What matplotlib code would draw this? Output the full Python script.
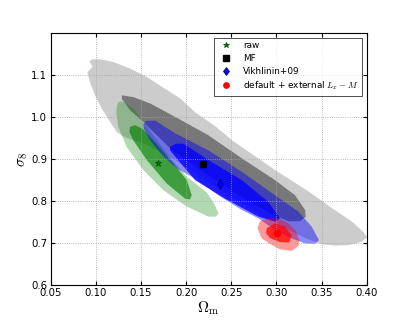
import numpy as np
import matplotlib
matplotlib.use("Agg")
import matplotlib.pyplot as plt

plt.rcParams["mathtext.fontset"] = "cm"
plt.rcParams["font.family"] = "DejaVu Sans"

# ------------------------------------------------------------
# contour outlines (Omega_m, sigma_8)
# ------------------------------------------------------------

# MF, 2 sigma
mf2_om = [0.0958, 0.1046, 0.1191, 0.1379, 0.1564, 0.1744, 0.1933, 0.2099, 0.2320, 0.2509,
          0.2797, 0.2985, 0.3350, 0.3616, 0.3838, 0.3960, 0.4004, 0.3945, 0.3797, 0.3649,
          0.3502, 0.3317, 0.3096, 0.2819, 0.2486, 0.2154, 0.1822, 0.1545, 0.1323, 0.1231,
          0.1157, 0.1065, 0.0991, 0.0928, 0.0906, 0.0966, 0.0928]
mf2_s8 = [1.138, 1.138, 1.132, 1.116, 1.096, 1.071, 1.045, 1.012, 0.979, 0.945,
          0.902, 0.874, 0.824, 0.783, 0.751, 0.727, 0.714, 0.703, 0.695, 0.694,
          0.697, 0.712, 0.736, 0.769, 0.812, 0.860, 0.905, 0.936, 0.952, 0.965,
          0.989, 1.021, 1.052, 1.088, 1.108, 1.120, 1.133]

# MF, 1 sigma
mf1_om = [0.1287, 0.1415, 0.1600, 0.1877, 0.2246, 0.2616, 0.2985, 0.3206, 0.3317, 0.3325,
          0.3262, 0.3132, 0.2929, 0.2597, 0.2154, 0.1822, 0.1526, 0.1379, 0.1290]
mf1_s8 = [1.052, 1.048, 1.033, 1.001, 0.957, 0.902, 0.850, 0.814, 0.779, 0.763,
          0.752, 0.752, 0.771, 0.812, 0.874, 0.926, 0.989, 1.017, 1.043]

# raw, 2 sigma
raw2_om = [0.1249, 0.1290, 0.1334, 0.1415, 0.1564, 0.1785, 0.2007, 0.2228, 0.2309, 0.2357,
           0.2331, 0.2246, 0.2118, 0.2007, 0.1748, 0.1526, 0.1342, 0.1249, 0.1227, 0.1231]
raw2_s8 = [1.036, 1.038, 1.032, 1.021, 0.977, 0.914, 0.858, 0.821, 0.795, 0.771,
           0.763, 0.763, 0.776, 0.787, 0.826, 0.874, 0.929, 0.977, 1.010, 1.026]

# raw, 1 sigma
raw1_om = [0.1379, 0.1434, 0.1512, 0.1637, 0.1858, 0.2007, 0.2062, 0.2043, 0.1988, 0.1785,
           0.1564, 0.1415, 0.1373]
raw1_s8 = [0.977, 0.981, 0.973, 0.945, 0.890, 0.850, 0.814, 0.804, 0.806, 0.842,
           0.898, 0.945, 0.965]

# Vikhlinin+09, 2 sigma
v2_om = [0.1526, 0.1556, 0.1656, 0.1877, 0.2246, 0.2616, 0.2985, 0.3243, 0.3391, 0.3472,
         0.3428, 0.3317, 0.3170, 0.2985, 0.2800, 0.2616, 0.2357, 0.2099, 0.1910, 0.1748,
         0.1600, 0.1534]
v2_s8 = [0.983, 0.991, 0.992, 0.962, 0.921, 0.870, 0.814, 0.775, 0.739, 0.707,
         0.698, 0.699, 0.711, 0.731, 0.759, 0.779, 0.814, 0.854, 0.876, 0.906,
         0.945, 0.971]

# Vikhlinin+09, 1 sigma
v1_om = [0.1822, 0.1888, 0.1969, 0.2246, 0.2616, 0.2911, 0.3040, 0.2985, 0.2800, 0.2431,
         0.2099, 0.1896, 0.1822]
v1_s8 = [0.929, 0.937, 0.937, 0.898, 0.850, 0.798, 0.759, 0.751, 0.763, 0.806,
         0.850, 0.902, 0.921]

# default + external Lx-M, 2 sigma
ext2_om = [0.2911, 0.3021, 0.3132, 0.3217, 0.3254, 0.3245, 0.3170, 0.3040, 0.2929, 0.2838,
           0.2789, 0.2819]
ext2_s8 = [0.759, 0.759, 0.747, 0.729, 0.707, 0.693, 0.681, 0.685, 0.698, 0.711,
           0.736, 0.752]

# default + external Lx-M, 1 sigma
ext1_om = [0.2893, 0.2985, 0.3096, 0.3170, 0.3140, 0.3040, 0.2929, 0.2885]
ext1_s8 = [0.735, 0.747, 0.739, 0.719, 0.701, 0.702, 0.712, 0.724]

# best fit points
labels = ["raw", "MF", "Vikhlinin+09", r"default + external $L_x - M$"]
best_om = [0.169, 0.219, 0.238, 0.301]
best_s8 = [0.890, 0.888, 0.840, 0.723]

x_ticks = [0.05, 0.10, 0.15, 0.20, 0.25, 0.30, 0.35, 0.40]
y_ticks = [0.6, 0.7, 0.8, 0.9, 1.0, 1.1]


# ------------------------------------------------------------
# plot
# ------------------------------------------------------------

fig = plt.figure(figsize=(4.07, 3.26), dpi=100)
ax = fig.add_axes([0.1245, 0.1258, 0.7765, 0.772])

ax.fill(mf2_om, mf2_s8, color="k", alpha=0.2, lw=0)
ax.fill(mf1_om, mf1_s8, color="k", alpha=0.41, lw=0)
ax.fill(raw2_om, raw2_s8, color="g", alpha=0.3, lw=0)
ax.fill(raw1_om, raw1_s8, color="g", alpha=0.65, lw=0)
ax.fill(v2_om, v2_s8, color="b", alpha=0.45, lw=0)
ax.fill(v1_om, v1_s8, color="b", alpha=0.8, lw=0)
ax.fill(ext2_om, ext2_s8, color="r", alpha=0.4, lw=0)
ax.fill(ext1_om, ext1_s8, color="r", alpha=0.75, lw=0)

ax.plot(best_om[0], best_s8[0], "*", color="g", mec="#004400", ms=5, mew=0.5, ls="none", label=labels[0])
ax.plot(best_om[1], best_s8[1], "s", color="k", ms=5, ls="none", label=labels[1])
ax.plot(best_om[2], best_s8[2], "d", color="b", mec="#000066", ms=5, mew=0.5, ls="none", label=labels[2])
ax.plot(best_om[3], best_s8[3], "o", color="r", mec="r", ms=4.5, ls="none", label=labels[3])

ax.set_xlim(0.05, 0.40)
ax.set_ylim(0.6, 1.2)
ax.set_xticks(x_ticks)
ax.set_yticks(y_ticks)
ax.tick_params(direction="in", top=True, right=True, labelsize=7.3, pad=2.5, length=3)
ax.grid(True, ls=":", color="0.65", lw=0.6)

ax.set_xlabel(r"$\Omega_{\rm m}$", fontsize=11, labelpad=1)
ax.set_ylabel(r"$\sigma_8$", fontsize=11, labelpad=1)

leg = ax.legend(loc="upper right", numpoints=1, fontsize=6.4, fancybox=False,
                handlelength=2.0, handletextpad=0.9, labelspacing=0.42, borderpad=0.4,
                markerscale=0.85)
leg.get_frame().set_edgecolor("k")
leg.get_frame().set_linewidth(0.6)

fig.savefig("out.png", dpi=100, facecolor="white")
